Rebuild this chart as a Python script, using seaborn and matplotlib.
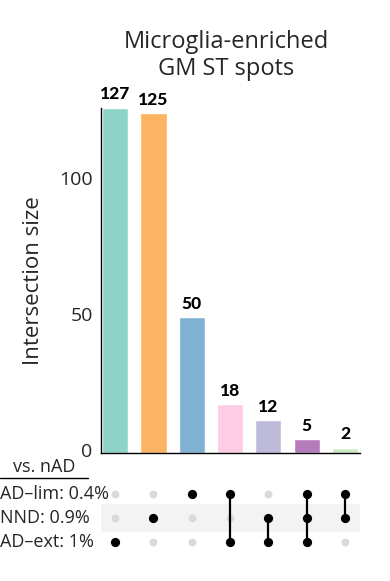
"""
UpSet-style chart: microglia-enriched GM ST spots, intersections vs. nAD.
"""

import matplotlib
matplotlib.use("Agg")
import matplotlib.pyplot as plt
import matplotlib.transforms as mtransforms
from matplotlib.lines import Line2D
import pandas as pd
import seaborn as sns

# -----------------------------
# Data
# -----------------------------
title_lines = ["Microglia-enriched", "GM ST spots"]
set_labels = ["AD–lim: 0.4%", "NND: 0.9%", "AD–ext: 1%"]
set_keys = ["AD–lim", "NND", "AD–ext"]
sizes = [127, 125, 50, 18, 12, 5, 2]
memberships = [
    ["AD–ext"],
    ["NND"],
    ["AD–lim"],
    ["AD–lim", "AD–ext"],
    ["NND", "AD–ext"],
    ["AD–lim", "NND", "AD–ext"],
    ["AD–lim", "NND"],
]
bar_colors = ["#8dd3c7", "#fdb462", "#80b1d3", "#fccde5", "#bebada", "#b57cbb", "#ccebc5"]

# -----------------------------
# Style
# -----------------------------
sns.set_style("white")
plt.rcParams["font.family"] = ["Open Sans", "DejaVu Sans"]

W, H = 390, 581
fig = plt.figure(figsize=(W / 100, H / 100), dpi=100)


def px_axes(x0, y0, x1, y1):
    # pixel box (top-left origin) -> figure axes
    return fig.add_axes([x0 / W, 1 - y1 / H, (x1 - x0) / W, (y1 - y0) / H])


# -----------------------------
# Bar chart (intersection sizes)
# -----------------------------
ax = px_axes(101, 108, 360, 453)
cols = list(range(len(sizes)))
bar_df = pd.DataFrame({"col": cols, "size": sizes})
sns.barplot(data=bar_df, x="col", y="size", hue="col", palette=bar_colors,
            saturation=1, width=0.68, legend=False, ax=ax, native_scale=True)
for cont in ax.containers:
    ax.bar_label(cont, padding=4, fontsize=12.5, fontweight="black",
                 family=["Lato", "DejaVu Sans"], color="black")
ax.set_xlim(-0.37, 6.39)
ax.set_ylim(0, 127)
ax.set_yticks([0, 50, 100])
ax.set_xticks([])
ax.set_xlabel("")
ax.set_ylabel("Intersection size", fontsize=16)
ax.yaxis.set_label_coords(-0.222, 0.50)
ax.tick_params(axis="y", length=0, pad=6, labelsize=14)
# tick labels sit a little above their tick in the original
shift = mtransforms.ScaledTranslation(0, 3 / 100, fig.dpi_scale_trans)
for lbl in ax.get_yticklabels():
    lbl.set_transform(lbl.get_transform() + shift)
sns.despine(ax=ax, top=True, right=True)
for s in ["left", "bottom"]:
    ax.spines[s].set_color("black")
    ax.spines[s].set_linewidth(1.0)

# -----------------------------
# Matrix (set membership)
# -----------------------------
mx = px_axes(101, 482, 360, 554)
rows = {k: 2 - i for i, k in enumerate(set_keys)}
cells = []
for c, members in enumerate(memberships):
    for k in set_keys:
        cells.append({"col": c, "row": rows[k], "active": k in members})
cell_df = pd.DataFrame(cells)

mx.axhspan(0.4, 1.6, color="#f3f3f3", zorder=0, lw=0)
sns.scatterplot(data=cell_df[~cell_df["active"]], x="col", y="row", color="#dadada",
                s=32, linewidth=0, ax=mx, zorder=2)
for c, members in enumerate(memberships):
    ys = [rows[k] for k in members]
    if len(ys) > 1:
        mx.plot([c, c], [min(ys), max(ys)], color="black", lw=1.6, zorder=3)
sns.scatterplot(data=cell_df[cell_df["active"]], x="col", y="row", color="black",
                s=44, linewidth=0, ax=mx, zorder=4)
mx.set_xlim(-0.37, 6.39)
mx.set_ylim(-0.5, 2.5)
mx.set_xticks([])
mx.set_yticks([])
mx.set_xlabel("")
mx.set_ylabel("")
for s in mx.spines.values():
    s.set_visible(False)

for k, lab in zip(set_keys, set_labels):
    y_px = 554 - (rows[k] + 0.5) / 3 * 72
    fig.text(0.5 / W, 1 - y_px / H, lab, ha="left", va="center", fontsize=13)

fig.text(44 / W, 1 - 472 / H, "vs. nAD", ha="center", va="baseline", fontsize=13)
fig.add_artist(Line2D([0, 88 / W], [1 - 478 / H, 1 - 478 / H], color="black", lw=1.0))

# -----------------------------
# Title
# -----------------------------
for line, base_px in zip(title_lines, [48, 75]):
    fig.text(226 / W, 1 - base_px / H, line, ha="center", va="baseline", fontsize=17)

plt.savefig("out.png", dpi=100)
